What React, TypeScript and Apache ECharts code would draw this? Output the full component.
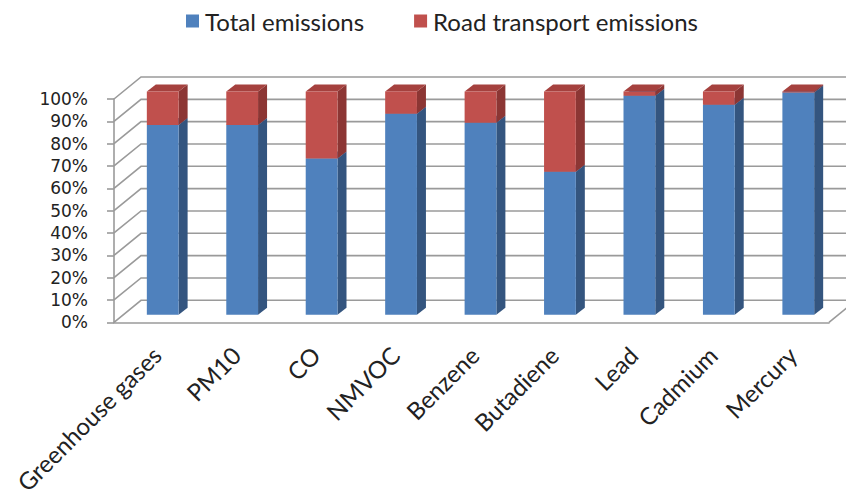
import React, { useEffect, useRef } from "react";
import * as echarts from "echarts";

// Share of each pollutant's emissions (percent of 100% stacked column)
const categories = [
  "Greenhouse gases",
  "PM10",
  "CO",
  "NMVOC",
  "Benzene",
  "Butadiene",
  "Lead",
  "Cadmium",
  "Mercury",
];
const totalShare = [85, 85, 70, 90, 86, 64, 98, 94, 99.5];
const roadShare = [15, 15, 30, 10, 14, 36, 2, 6, 0.5];
const yTicks = [0, 10, 20, 30, 40, 50, 60, 70, 80, 90, 100];

const seriesNames = ["Total emissions", "Road transport emissions"];

// 3D look: pixel offsets of the chart depth
const WALL_DEPTH: [number, number] = [27, -22];
const BAR_FRONT: [number, number] = [9, -7.6];
const BAR_DEPTH: [number, number] = [9, -7];
const LABEL_SHIFT = 3;

const GRID_LEFT = 114;
const GRID_TOP = 99;
const GRID_W = 715;
const GRID_H = 223.3;

const LINE_GREY = "#9a9a9a";

const faceColors = {
  blue: { front: "#4f81bd", side: "#34557f", top: "#3f6797" },
  red: { front: "#c0504d", side: "#8c3634", top: "#a5413e" },
};

function barRenderer(colors: { front: string; side: string; top: string }) {
  return (params: any, api: any) => {
    const i = api.value(0);
    const base = api.value(1);
    const val = api.value(2);
    const [cx, y0] = api.coord([i, base]);
    const y1 = api.coord([i, base + val])[1];
    const band = api.size([1, 0])[0];
    const w = band * 0.4;
    const fx = cx - w / 2 + BAR_FRONT[0];
    const fy0 = y0 + BAR_FRONT[1];
    const fy1 = y1 + BAR_FRONT[1];
    const [dx, dy] = BAR_DEPTH;
    return {
      type: "group",
      children: [
        {
          type: "polygon",
          shape: {
            points: [
              [fx + w, fy1],
              [fx + w + dx, fy1 + dy],
              [fx + w + dx, fy0 + dy],
              [fx + w, fy0],
            ],
          },
          style: { fill: colors.side },
        },
        {
          type: "polygon",
          shape: {
            points: [
              [fx, fy1],
              [fx + w, fy1],
              [fx + w + dx, fy1 + dy],
              [fx + dx, fy1 + dy],
            ],
          },
          style: { fill: colors.top },
        },
        {
          type: "rect",
          shape: { x: fx, y: fy1, width: w, height: fy0 - fy1 },
          style: { fill: colors.front },
        },
      ],
    };
  };
}

// Side wall, back wall and floor gridlines of the 3D box
function wallRenderer(params: any, api: any) {
  const v = api.value(0);
  const cs = params.coordSys;
  const y = api.coord([0, v])[1];
  const [dx, dy] = WALL_DEPTH;
  const style = { stroke: LINE_GREY, lineWidth: 1.6, fill: null };
  const children: any[] = [
    {
      type: "polyline",
      shape: {
        points: [
          [cs.x, y],
          [cs.x + dx, y + dy],
          [cs.x + cs.width + dx, y + dy],
        ],
      },
      style,
    },
  ];
  if (v === 0) {
    children.push({
      type: "line",
      shape: {
        x1: cs.x + cs.width,
        y1: y,
        x2: cs.x + cs.width + dx,
        y2: y + dy,
      },
      style,
    });
  }
  return { type: "group", children };
}

export default function App() {
  const ref = useRef<HTMLDivElement>(null);

  useEffect(() => {
    if (!ref.current) return;
    const chart = echarts.init(ref.current, undefined, { renderer: "svg" });
    chart.setOption({
      animation: false,
      backgroundColor: "#ffffff",
      legend: {
        data: seriesNames,
        left: 181,
        top: 4,
        icon: "rect",
        itemWidth: 13,
        itemHeight: 13,
        itemGap: 50,
        textStyle: {
          fontFamily: "Lato",
          fontSize: 24,
          color: "#222222",
          padding: [0, 0, 0, 1],
        },
      },
      grid: [
        { left: GRID_LEFT, top: GRID_TOP, width: GRID_W, height: GRID_H },
        // category labels, nudged toward the bars set back in the depth
        {
          left: GRID_LEFT + LABEL_SHIFT,
          top: GRID_TOP,
          width: GRID_W,
          height: GRID_H,
        },
      ],
      xAxis: [
        {
          type: "category",
          gridIndex: 0,
          data: categories,
          axisLine: { lineStyle: { color: LINE_GREY, width: 1.6 } },
          axisTick: { length: 7, lineStyle: { color: LINE_GREY, width: 1.6 } },
          axisLabel: { show: false },
        },
        {
          type: "category",
          gridIndex: 1,
          data: categories,
          axisLine: { show: false },
          axisTick: { show: false },
          axisLabel: {
            rotate: 45,
            margin: 33,
            fontFamily: "Lato",
            fontSize: 24,
            color: "#222222",
          },
        },
      ],
      yAxis: [
        {
          type: "value",
          gridIndex: 0,
          min: 0,
          max: 100,
          interval: 10,
          splitLine: { show: false },
          axisLine: { show: true, lineStyle: { color: LINE_GREY, width: 1.6 } },
          axisTick: {
            show: true,
            length: 7,
            lineStyle: { color: LINE_GREY, width: 1.6 },
          },
          axisLabel: {
            formatter: "{value}%",
            margin: 26,
            fontFamily: "DejaVu Sans",
            fontSize: 17,
            color: "#222222",
          },
        },
        {
          type: "value",
          gridIndex: 1,
          min: 0,
          max: 100,
          show: false,
        },
      ],
      series: [
        {
          name: "walls",
          type: "custom",
          clip: false,
          silent: true,
          renderItem: wallRenderer,
          data: yTicks.map((v) => [v]),
          encode: { y: 0 },
          z: 1,
        },
        {
          name: seriesNames[0],
          type: "custom",
          clip: false,
          itemStyle: { color: faceColors.blue.front },
          renderItem: barRenderer(faceColors.blue),
          data: categories.map((_, i) => [i, 0, totalShare[i]]),
          encode: { x: 0, y: [1, 2] },
          z: 2,
        },
        {
          name: seriesNames[1],
          type: "custom",
          clip: false,
          itemStyle: { color: faceColors.red.front },
          renderItem: barRenderer(faceColors.red),
          data: categories.map((_, i) => [i, totalShare[i], roadShare[i]]),
          encode: { x: 0, y: [1, 2] },
          z: 3,
        },
      ],
    });
    return () => chart.dispose();
  }, []);

  return (
    <div
      ref={ref}
      style={{ position: "fixed", left: 0, top: 0, width: 846, height: 497 }}
    />
  );
}
